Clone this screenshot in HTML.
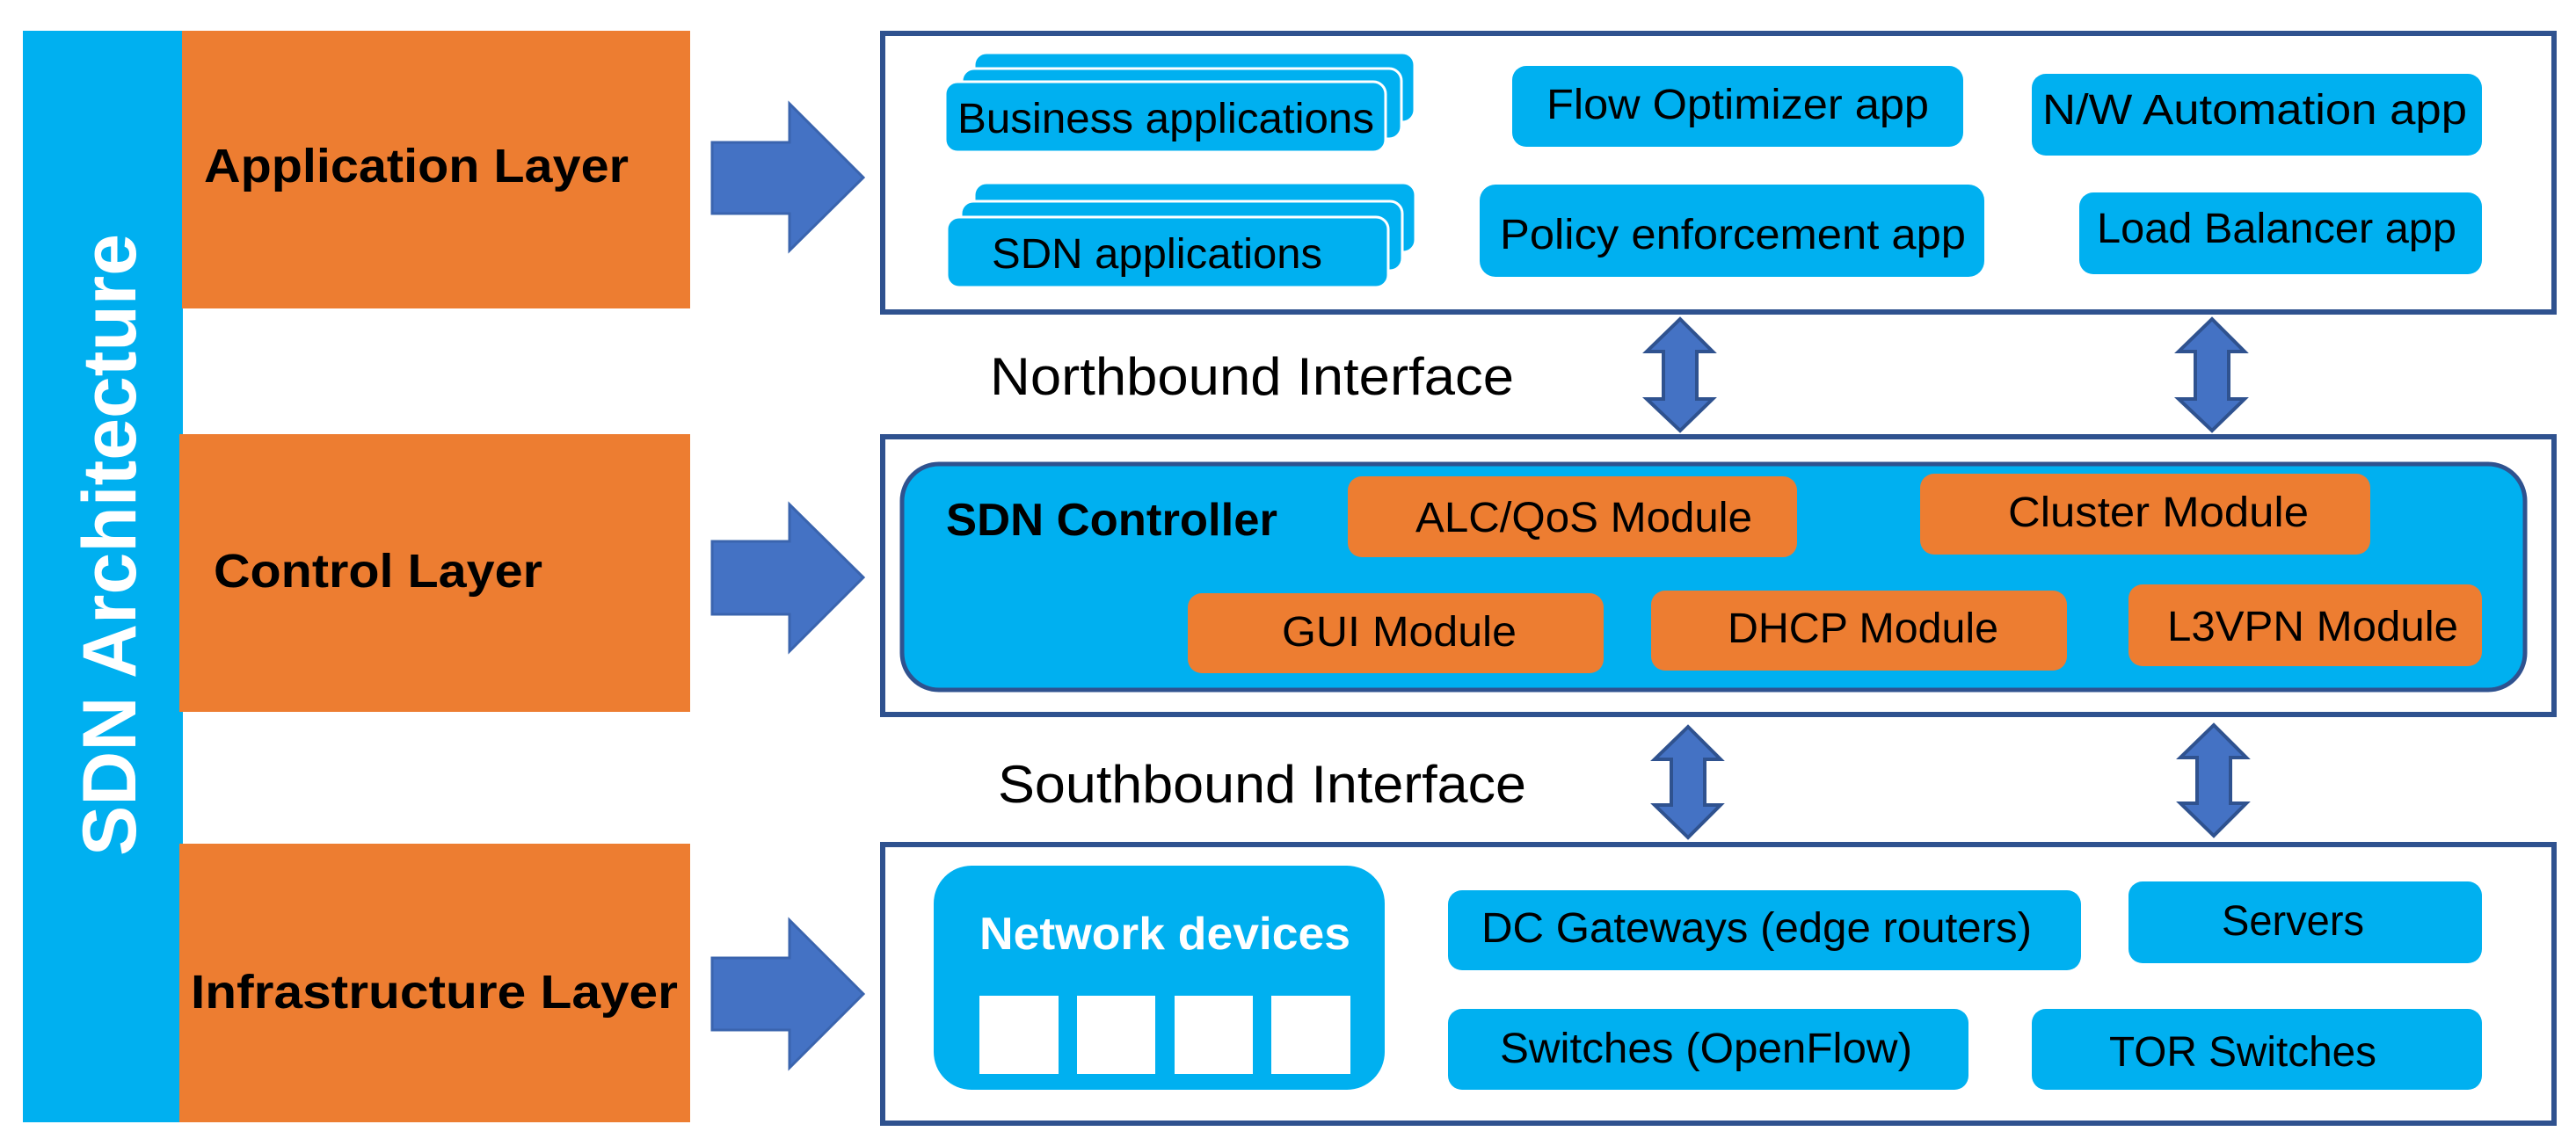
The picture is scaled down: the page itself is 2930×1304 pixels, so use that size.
<!DOCTYPE html>
<html><head><meta charset="utf-8"><style>
html,body{margin:0;padding:0;background:#fff;}
svg{display:block;}
text{font-family:"Liberation Sans",sans-serif;}
</style></head><body>
<svg width="2930" height="1304" viewBox="0 0 2930 1304" xmlns="http://www.w3.org/2000/svg">
<rect x="0" y="0" width="2930" height="1304" fill="#fff"/>
<!-- left blue bar -->
<rect x="26" y="35" width="182" height="1242" fill="#00B0F0"/>
<text transform="translate(154,974) rotate(-90)" font-size="86" font-weight="bold" fill="#fff" textLength="708" lengthAdjust="spacingAndGlyphs">SDN Architecture</text>
<!-- orange layer boxes -->
<rect x="207" y="35" width="578" height="316" fill="#ED7D31"/>
<rect x="204" y="494" width="581" height="316" fill="#ED7D31"/>
<rect x="204" y="960" width="581" height="317" fill="#ED7D31"/>
<text x="232" y="207" font-size="54" font-weight="bold" textLength="483" lengthAdjust="spacingAndGlyphs">Application Layer</text>
<text x="243" y="668" font-size="54" font-weight="bold" textLength="374" lengthAdjust="spacingAndGlyphs">Control Layer</text>
<text x="217" y="1147" font-size="54" font-weight="bold" textLength="554" lengthAdjust="spacingAndGlyphs">Infrastructure Layer</text>
<!-- right arrows -->
<g fill="#4472C4" stroke="#3A64AE" stroke-width="3">
<polygon points="810,162 898,162 898,118 982,202 898,285 898,243 810,243"/>
<polygon points="810,616 898,616 898,574 982,657 898,741 898,699 810,699"/>
<polygon points="810,1090 898,1090 898,1047 982,1131 898,1215 898,1172 810,1172"/>
</g>
<!-- layer boxes -->
<g fill="none" stroke="#2F528F" stroke-width="6">
<rect x="1004" y="38" width="1901" height="317"/>
<rect x="1004" y="497" width="1901" height="316"/>
<rect x="1004" y="961" width="1901" height="317"/>
</g>
<!-- double arrows -->
<g fill="#4472C4" stroke="#2F528F" stroke-width="4">
<polygon points="1911,363 1948,400 1930,400 1930,454 1948,454 1911,490 1873,454 1892,454 1892,400 1873,400"/>
<polygon points="2516,363 2553,400 2535,400 2535,454 2553,454 2516,490 2478,454 2497,454 2497,400 2478,400"/>
<polygon points="1920,827 1957,864 1939,864 1939,916 1957,916 1920,953 1882,916 1901,916 1901,864 1882,864"/>
<polygon points="2518,825 2555,862 2537,862 2537,914 2555,914 2518,951 2480,914 2499,914 2499,862 2480,862"/>
</g>
<text x="1126" y="449" font-size="60" textLength="596" lengthAdjust="spacingAndGlyphs">Northbound Interface</text>
<text x="1135" y="913" font-size="60" textLength="601" lengthAdjust="spacingAndGlyphs">Southbound Interface</text>
<!-- application layer items -->
<g fill="#00B0F0" stroke="#fff" stroke-width="3">
<rect x="1108" y="60" width="501" height="79" rx="14"/>
<rect x="1094" y="78" width="500" height="80" rx="14"/>
<rect x="1075" y="93" width="501" height="80" rx="14"/>
<rect x="1108" y="208" width="502" height="79" rx="14"/>
<rect x="1093" y="229" width="502" height="79" rx="14"/>
<rect x="1077" y="247" width="502" height="80" rx="14"/>
</g>
<g fill="#00B0F0">
<rect x="1720" y="75" width="513" height="92" rx="16"/>
<rect x="2311" y="84" width="512" height="93" rx="16"/>
<rect x="1683" y="210" width="574" height="105" rx="18"/>
<rect x="2365" y="219" width="458" height="93" rx="16"/>
</g>
<g font-size="48" fill="#000">
<text x="1089" y="151" textLength="474" lengthAdjust="spacingAndGlyphs">Business applications</text>
<text x="1128" y="305" textLength="376" lengthAdjust="spacingAndGlyphs">SDN applications</text>
<text x="1759" y="135" textLength="435" lengthAdjust="spacingAndGlyphs">Flow Optimizer app</text>
<text x="2323" y="141" textLength="483" lengthAdjust="spacingAndGlyphs">N/W Automation app</text>
<text x="1706" y="283" textLength="530" lengthAdjust="spacingAndGlyphs">Policy enforcement app</text>
<text x="2385" y="276" textLength="409" lengthAdjust="spacingAndGlyphs">Load Balancer app</text>
</g>
<!-- controller -->
<rect x="1026" y="528" width="1846" height="257" rx="42" fill="#00B0F0" stroke="#2F528F" stroke-width="5"/>
<text x="1076" y="609" font-size="52" font-weight="bold" textLength="377" lengthAdjust="spacingAndGlyphs">SDN Controller</text>
<g fill="#ED7D31">
<rect x="1533" y="542" width="511" height="92" rx="16"/>
<rect x="2184" y="539" width="512" height="92" rx="16"/>
<rect x="1351" y="675" width="473" height="91" rx="16"/>
<rect x="1878" y="672" width="473" height="91" rx="16"/>
<rect x="2421" y="665" width="402" height="93" rx="16"/>
</g>
<g font-size="48" fill="#000">
<text x="1610" y="605" textLength="383" lengthAdjust="spacingAndGlyphs">ALC/QoS Module</text>
<text x="2284" y="599" textLength="342" lengthAdjust="spacingAndGlyphs">Cluster Module</text>
<text x="1458" y="735" textLength="267" lengthAdjust="spacingAndGlyphs">GUI Module</text>
<text x="1965" y="731" textLength="308" lengthAdjust="spacingAndGlyphs">DHCP Module</text>
<text x="2465" y="729" textLength="331" lengthAdjust="spacingAndGlyphs">L3VPN Module</text>
</g>
<!-- infrastructure -->
<rect x="1062" y="985" width="513" height="255" rx="43" fill="#00B0F0"/>
<text x="1114" y="1080" font-size="52" font-weight="bold" fill="#fff" textLength="422" lengthAdjust="spacingAndGlyphs">Network devices</text>
<g fill="#fff">
<rect x="1114" y="1133" width="90" height="89"/>
<rect x="1225" y="1133" width="89" height="89"/>
<rect x="1336" y="1133" width="89" height="89"/>
<rect x="1446" y="1133" width="90" height="89"/>
</g>
<g fill="#00B0F0">
<rect x="1647" y="1013" width="720" height="91" rx="16"/>
<rect x="2421" y="1003" width="402" height="93" rx="16"/>
<rect x="1647" y="1148" width="592" height="92" rx="16"/>
<rect x="2311" y="1148" width="512" height="92" rx="16"/>
</g>
<g font-size="48" fill="#000">
<text x="1685" y="1072" textLength="626" lengthAdjust="spacingAndGlyphs">DC Gateways (edge routers)</text>
<text x="2527" y="1064" textLength="162" lengthAdjust="spacingAndGlyphs">Servers</text>
<text x="1706" y="1209" textLength="469" lengthAdjust="spacingAndGlyphs">Switches (OpenFlow)</text>
<text x="2399" y="1213" textLength="304" lengthAdjust="spacingAndGlyphs">TOR Switches</text>
</g>
</svg>
</body></html>
